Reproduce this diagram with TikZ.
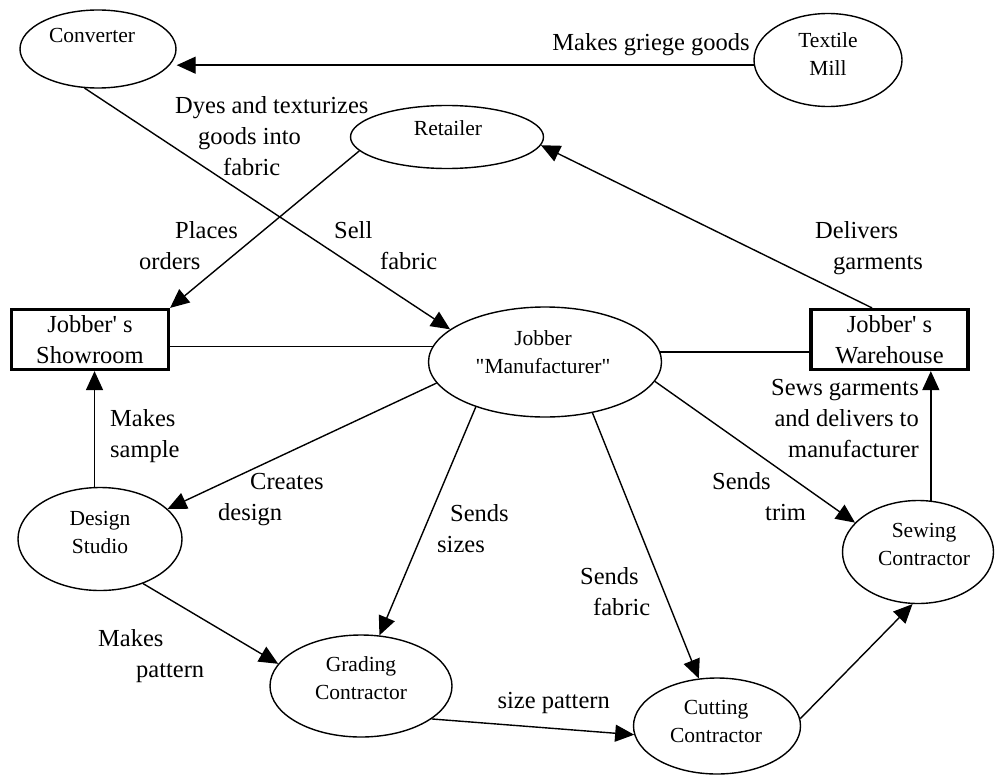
\documentclass[tikz,border=0pt]{standalone}
\usepackage{fontspec}
\newfontfamily\lab{Liberation Serif}
\usetikzlibrary{arrows.meta,shapes.geometric}
\tikzset{
  ell/.style={draw, ellipse, line width=1.4pt, inner sep=0pt},
  box/.style={draw, rectangle, line width=3.2pt, inner sep=0pt, align=center,
              font=\lab\fontsize{24.5}{30.8}\selectfont, minimum width=157pt, minimum height=60pt},
  ntext/.style={font=\lab\fontsize{21.5}{28}\selectfont, align=center, anchor=base, inner sep=0pt},
  elab/.style={font=\lab\fontsize{24.5}{30.8}\selectfont, inner sep=0pt},
  arr/.style={line width=1.4pt, -{Triangle[length=19pt,width=17pt]}},
  ln/.style={line width=1.4pt}
}
\begin{document}
\begin{tikzpicture}[x=1pt,y=-1pt]
\useasboundingbox (0,0) rectangle (995,776);
% ellipses
\node[ell, minimum width=156pt, minimum height=78pt] (conv) at (98,49) {};
\node[ell, minimum width=148pt, minimum height=93pt] (mill) at (828,60) {};
\node[ell, minimum width=193pt, minimum height=63pt] (ret) at (447,137) {};
\node[ell, minimum width=233pt, minimum height=110pt] (jm) at (545,362) {};
\node[ell, minimum width=164pt, minimum height=103pt] (ds) at (100,539) {};
\node[ell, minimum width=182pt, minimum height=102pt] (gr) at (361,686) {};
\node[ell, minimum width=167pt, minimum height=96pt] (cut) at (717,726) {};
\node[ell, minimum width=151pt, minimum height=103pt] (sew) at (918,552) {};
% boxes
\node[box] (show) at (90,339.5) {Jobber' s\\Showroom};
\node[box] (wh) at (889.5,339.5) {Jobber' s\\Warehouse};
% ellipse texts (base = last line's baseline)
\node[ntext] (convT) at (92,43) {Converter};
\node[ntext] (millT) at (828,75) {Textile\\Mill};
\node[ntext] (retT) at (448,135) {Retailer};
\node[ntext] (jmT) at (543,373) {Jobber\\\textquotedbl Manufacturer\textquotedbl};
\node[ntext] (dsT) at (100,553) {Design\\Studio};
\node[ntext] (grT) at (361,699) {Grading\\Contractor};
\node[ntext] (cutT) at (716,742) {Cutting\\Contractor};
\node[ntext] (sewT) at (924,565) {Sewing\\Contractor};
% connectors
\draw[arr] (mill.-176) -- (mill.-176 -| conv.east);
\draw[arr] (conv.-109) -- (jm.161);
\draw[arr] (ret.-171) -- (show.north east);
\draw[arr] ([xshift=-17.5pt]wh.north) -- (ret.-5);
\draw[ln] (jm.172) -- (jm.172 -| show.east);
\draw[ln] (jm.5) -- (jm.5 -| wh.west);
\draw[arr] (ds.96) -- (ds.96 |- show.south);
\draw[arr] (jm.-169) -- (ds.24);
\draw[arr] (jm.-147) -- (gr.70);
\draw[arr] (jm.-47) -- (cut.111);
\draw[arr] (jm.-10) -- (sew.155);
\draw[arr] (sew.76) -- (sew.76 |- wh.south);
\draw[arr] (ds.-46) -- (gr.165);
\draw[arr] (gr.-25) -- (cut.-174);
\draw[arr] (cut.5) -- (sew.-96);
% edge labels (base = last line's baseline)
\node[elab, anchor=base] (l1) at (651,51) {Makes griege goods};
\node[elab, anchor=base west, align=left] (l2) at (175,175) {Dyes and texturizes\\\hspace*{23pt}goods into\\\hspace*{48pt}fabric};
\node[elab, anchor=base west, align=left] (l3) at (139,269) {\hspace*{36pt}Places\\orders};
\node[elab, anchor=base west, align=left] (l4) at (334,269) {Sell\\\hspace*{46pt}fabric};
\node[elab, anchor=base west, align=left] (l5) at (815,269) {Delivers\\\hspace*{18pt}garments};
\node[elab, anchor=base west, align=left] (l6) at (110,457) {Makes\\sample};
\node[elab, anchor=base west, align=left] (l7) at (218,520) {\hspace*{32pt}Creates\\design};
\node[elab, anchor=base west, align=left] (l8) at (437,552) {\hspace*{13pt}Sends\\sizes};
\node[elab, anchor=base west, align=left] (l9) at (580,615) {Sends\\\hspace*{13pt}fabric};
\node[elab, anchor=base west, align=left] (l10) at (712,520) {Sends\\\hspace*{53pt}trim};
\node[elab, anchor=base east, align=right] (l11) at (919,457) {Sews garments\\and delivers to\\manufacturer};
\node[elab, anchor=base west, align=left] (l12) at (98,677) {Makes\\\hspace*{38pt}pattern};
\node[elab, anchor=base east] (l13) at (610,708) {size pattern};
\end{tikzpicture}
\end{document}
